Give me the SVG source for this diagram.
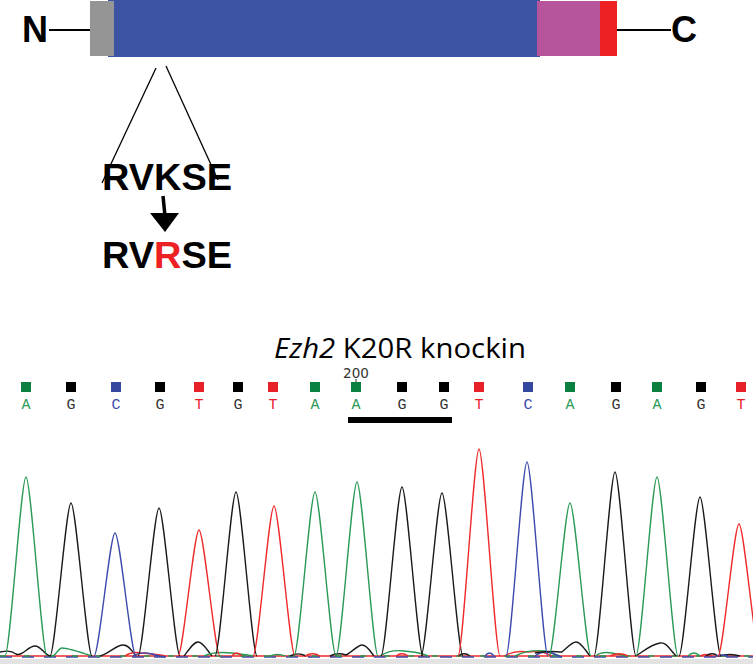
<svg xmlns="http://www.w3.org/2000/svg" width="753" height="664" viewBox="0 0 753 664">
<style>
.bold{font-family:"Liberation Sans",Arial,sans-serif;font-weight:bold;fill:#000}
.base{font-family:"Liberation Mono","Courier New",monospace;font-size:15px;text-anchor:middle}
.tr{fill:none;stroke-width:1.4;stroke-linejoin:round}
.g{stroke:#2a9a55}.k{stroke:#1a1a1a}.b{stroke:#3c4aab}.r{stroke:#ee2a2a}
.sq-g{fill:#0a7f3f}.sq-k{fill:#000}.sq-b{fill:#3448a0}.sq-r{fill:#e8202a}
.tA{fill:#2a9a55}.tG{fill:#333}.tC{fill:#3c4aab}.tT{fill:#e8202a}
</style>
<rect width="753" height="664" fill="#fff"/>

<g id="protein">
  <line x1="49" y1="30" x2="90" y2="30" stroke="#000" stroke-width="2"/>
  <line x1="617" y1="30" x2="671" y2="30" stroke="#000" stroke-width="2"/>
  <rect x="108" y="0" width="432" height="57" fill="#3c52a3"/>
  <rect x="90" y="1" width="24" height="55" fill="#959595"/>
  <rect x="537" y="1" width="63" height="55" fill="#b6559c"/>
  <rect x="600" y="1" width="17" height="55" fill="#ed2024"/>
  <text class="bold" x="22" y="42" font-size="36">N</text>
  <text class="bold" x="671" y="42" font-size="36">C</text>
</g>

<g id="connectors">
  <line x1="156" y1="68" x2="102" y2="183" stroke="#000" stroke-width="1.3"/>
  <line x1="166" y1="66" x2="218" y2="180" stroke="#000" stroke-width="1.3"/>
  <line x1="163" y1="196" x2="165" y2="216" stroke="#000" stroke-width="3.5"/>
  <polygon points="150,213 179,213 165,232" fill="#000"/>
</g>

<g id="seq-wt">
  <text class="bold" x="102" y="190" font-size="36" textLength="130" lengthAdjust="spacingAndGlyphs">RVKSE</text>
</g>
<g id="seq-mut">
  <text class="bold" x="102" y="268" font-size="36" textLength="130" lengthAdjust="spacingAndGlyphs">RV<tspan fill="#ed2024">R</tspan>SE</text>
</g>

<g id="title">
  <text x="274" y="358" font-family="'Open Sans','Noto Sans',sans-serif" font-size="27" fill="#000" textLength="252" lengthAdjust="spacingAndGlyphs"><tspan font-style="italic">Ezh2</tspan> K20R knockin</text>
</g>

<g id="bases">
  <text x="356" y="378" font-family="'DejaVu Sans',sans-serif" font-size="13.5" fill="#333" text-anchor="middle">200</text>
  <line x1="356" y1="379" x2="356" y2="383" stroke="#333" stroke-width="1"/>
  <rect class="sq-g" x="21" y="382" width="10" height="10"/><text class="base tA" x="26" y="409">A</text>
  <rect class="sq-k" x="66" y="382" width="10" height="10"/><text class="base tG" x="71" y="409">G</text>
  <rect class="sq-b" x="111" y="382" width="10" height="10"/><text class="base tC" x="116" y="409">C</text>
  <rect class="sq-k" x="155" y="382" width="10" height="10"/><text class="base tG" x="160" y="409">G</text>
  <rect class="sq-r" x="194" y="382" width="10" height="10"/><text class="base tT" x="199" y="409">T</text>
  <rect class="sq-k" x="233" y="382" width="10" height="10"/><text class="base tG" x="238" y="409">G</text>
  <rect class="sq-r" x="268" y="382" width="10" height="10"/><text class="base tT" x="273" y="409">T</text>
  <rect class="sq-g" x="310" y="382" width="10" height="10"/><text class="base tA" x="315" y="409">A</text>
  <rect class="sq-g" x="351" y="382" width="10" height="10"/><text class="base tA" x="356" y="409">A</text>
  <rect class="sq-k" x="397" y="382" width="10" height="10"/><text class="base tG" x="402" y="409">G</text>
  <rect class="sq-k" x="439" y="382" width="10" height="10"/><text class="base tG" x="444" y="409">G</text>
  <rect class="sq-r" x="474" y="382" width="10" height="10"/><text class="base tT" x="479" y="409">T</text>
  <rect class="sq-b" x="523" y="382" width="10" height="10"/><text class="base tC" x="528" y="409">C</text>
  <rect class="sq-g" x="565" y="382" width="10" height="10"/><text class="base tA" x="570" y="409">A</text>
  <rect class="sq-k" x="611" y="382" width="10" height="10"/><text class="base tG" x="616" y="409">G</text>
  <rect class="sq-g" x="652" y="382" width="10" height="10"/><text class="base tA" x="657" y="409">A</text>
  <rect class="sq-k" x="696" y="382" width="10" height="10"/><text class="base tG" x="701" y="409">G</text>
  <rect class="sq-r" x="736" y="382" width="10" height="10"/><text class="base tT" x="741" y="409">T</text>
  <rect x="348" y="417" width="104" height="6" fill="#000"/>
</g>

<g id="chromatogram">
  <rect x="0" y="659" width="753" height="5" fill="#e3e3e3"/>
  <path class="tr r" d="M0,656 L753,656"/>
  <path class="tr b" d="M0,657 L753,657" stroke-dasharray="12 10"/>
  <path class="tr g" d="M0,656 L753,656" stroke-dasharray="6 18"/>
  <!-- baseline noise -->
  <path class="tr k" d="M0,652 C5,651 10,650 16,654 C22,657 28,646 35,646 C41,646 44,654 50,656"/>
  <path class="tr g" d="M52,656 C56,656 58,648 62,648 C68,648 80,652 92,656"/>
  <path class="tr k" d="M100,656 C110,653 116,645 123,645 C130,645 132,652 136,656"/>
  <path class="tr r" d="M125,656 C130,652 136,652 142,653 C150,654 156,654 165,656"/>
  <path class="tr b" d="M133,656 C138,653 145,652 152,654 C156,656 160,656 165,657"/>
  <path class="tr k" d="M184,656 C190,648 194,642 198,642 C203,642 207,650 212,656"/>
  <path class="tr g" d="M204,656 C212,652 222,652 232,653 C240,654 248,655 254,656"/>
  <path class="tr r" d="M232,656 C235,652 238,652 242,656"/>
  <path class="tr g" d="M270,656 C275,654 280,654 285,656"/>
  <path class="tr k" d="M290,656 C296,653 300,653 306,656"/>
  <path class="tr r" d="M305,656 C310,653 315,653 320,656"/>
  <path class="tr k" d="M330,656 C336,653 340,653 346,655 C352,652 358,645 362,645 C367,645 370,651 374,656"/>
  <path class="tr g" d="M380,656 C388,651 396,650 404,651 C412,652 420,652 428,656"/>
  <path class="tr r" d="M396,656 C400,653 404,653 408,656"/>
  <path class="tr k" d="M458,656 C462,653 466,653 470,656"/>
  <path class="tr b" d="M485,656 C488,652 491,652 494,656"/>
  <path class="tr r" d="M505,656 C512,651 520,651 528,652 C536,651 545,652 552,656"/>
  <path class="tr g" d="M515,656 C525,651 535,650 545,651 C552,653 556,655 560,656"/>
  <path class="tr b" d="M535,656 C540,652 546,651 552,653 C556,655 558,656 562,657"/>
  <path class="tr k" d="M535,653 C548,650 556,652 562,652 C568,647 572,642 576,642 C581,642 585,650 590,656"/>
  <path class="tr g" d="M596,656 C600,652 606,652 612,653 C618,654 622,655 628,656"/>
  <path class="tr r" d="M610,656 C616,653 622,653 628,656"/>
  <path class="tr k" d="M636,656 C645,650 652,644 660,643 C667,642 670,650 676,656"/>
  <path class="tr g" d="M688,656 C692,652 696,652 700,656"/>
  <path class="tr r" d="M700,656 C704,654 708,654 712,656"/>
  <path class="tr k" d="M706,656 C710,653 714,653 718,656 C726,654 734,654 740,656"/>
  <path class="tr b" d="M716,656 C720,655 724,655 728,656"/>
  <!-- peaks -->
  <path class="tr g" d="M5,656 C10,656 21,477 26,477 C31,477 42,656 47,656"/>
  <path class="tr k" d="M50,656 C55,656 66,503 71,503 C76,503 87,656 92,656"/>
  <path class="tr b" d="M94,656 C99,656 110,533 115,533 C120,533 131,656 136,656"/>
  <path class="tr k" d="M138,656 C143,656 154,508 159,508 C164,508 175,656 180,656"/>
  <path class="tr r" d="M178,656 C183,656 194,530 199,530 C204,530 215,656 220,656"/>
  <path class="tr k" d="M215,656 C220,656 231,492 236,492 C241,492 252,656 257,656"/>
  <path class="tr r" d="M253,656 C258,656 269,506 274,506 C279,506 290,656 295,656"/>
  <path class="tr g" d="M294,656 C299,656 310,492 315,492 C320,492 331,656 336,656"/>
  <path class="tr g" d="M336,656 C341,656 352,482 357,482 C362,482 373,656 378,656"/>
  <path class="tr k" d="M381,656 C386,656 397,487 402,487 C407,487 418,656 423,656"/>
  <path class="tr k" d="M421,656 C426,656 437,493 442,493 C447,493 458,656 463,656"/>
  <path class="tr r" d="M458,656 C463,656 474,449 479,449 C484,449 495,656 500,656"/>
  <path class="tr b" d="M506,656 C511,656 522,462 527,462 C532,462 543,656 548,656"/>
  <path class="tr g" d="M549,656 C554,656 565,503 570,503 C575,503 586,656 591,656"/>
  <path class="tr k" d="M594,656 C599,656 610,472 615,472 C620,472 631,656 636,656"/>
  <path class="tr g" d="M636,656 C641,656 652,477 657,477 C662,477 673,656 678,656"/>
  <path class="tr k" d="M679,656 C684,656 695,497 700,497 C705,497 716,656 721,656"/>
  <path class="tr r" d="M718,656 C723,656 734,524 739,524 C744,524 755,656 760,656"/>
</g>
</svg>
